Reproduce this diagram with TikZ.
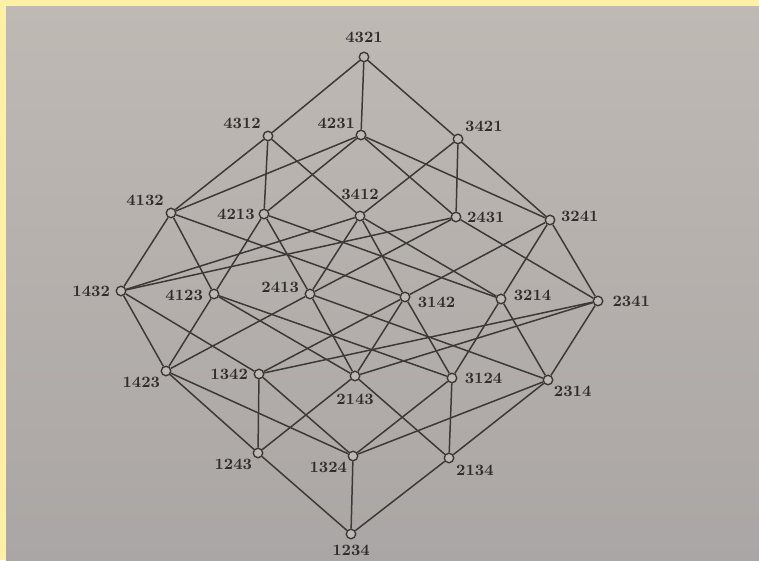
\documentclass[tikz,border=0pt]{standalone}
\usepackage{amsmath,amssymb}
\usepackage{tikz}

\definecolor{paper}{RGB}{190,185,179}
\definecolor{paperdark}{RGB}{170,166,165}
\definecolor{frame}{RGB}{255,240,166}
\definecolor{ink}{RGB}{60,57,55}

\tikzset{
  vtx/.style={circle,draw=ink,fill=paper,line width=0.8pt,inner sep=0pt,minimum size=0.19cm},
  lbl/.style={font=\fontsize{9}{10}\selectfont\bfseries,text=ink!80!black,inner sep=1pt},
  every label/.style={lbl},
  edge/.style={draw=ink,line width=0.85pt}
}

\begin{document}
\begin{tikzpicture}[x=0.02cm,y=-0.02cm]
	  \useasboundingbox (0,0) rectangle (759,560);
	  \fill[frame] (0,0) rectangle (759,560);
	  \shade[top color=paper,bottom color=paperdark] (6,7) rectangle (759,560);
	  % rank 6
	  \node[vtx,label={[label distance=4pt]above:4321}] (n4321) at (364,57) {};
	  % rank 5
	  \node[vtx,label={[label distance=1pt]above left:4312}] (n4312) at (268,136) {};
	  \node[vtx,label={[label distance=0pt]above left:4231}] (n4231) at (361,135) {};
	  \node[vtx,label={[label distance=1pt]above right:3421}] (n3421) at (458,139) {};
	  % rank 4
	  \node[vtx,label={[label distance=1pt]above left:4132}] (n4132) at (171,213) {};
	  \node[vtx,label={[label distance=1pt]left:4213}] (n4213) at (264,214) {};
	  \node[vtx,label={[label distance=5pt]above:3412}] (n3412) at (360,216) {};
	  \node[vtx,label={[label distance=2pt]right:2431}] (n2431) at (456,217) {};
	  \node[vtx,label={[label distance=2pt,yshift=2pt]right:3241}] (n3241) at (550,220) {};
	  % rank 3
	  \node[vtx,label={[label distance=2pt]left:1432}] (n1432) at (121,291) {};
	  \node[vtx,label={[label distance=2pt,yshift=-1pt]left:4123}] (n4123) at (214,294) {};
	  \node[vtx,label={[label distance=2pt,yshift=4pt]left:2413}] (n2413) at (310,294) {};
	  \node[vtx,label={[label distance=3pt,yshift=-3pt]right:3142}] (n3142) at (405,297) {};
	  \node[vtx,label={[label distance=3pt,yshift=2pt]right:3214}] (n3214) at (501,299) {};
	  \node[vtx,label={[label distance=4pt]right:2341}] (n2341) at (598,301) {};
	  % rank 2
	  \node[vtx,label={[label distance=0pt]below left:1423}] (n1423) at (166,371) {};
	  \node[vtx,label={[label distance=2pt]left:1342}] (n1342) at (259,374) {};
	  \node[vtx,label={[label distance=6pt]below:2143}] (n2143) at (355,376) {};
	  \node[vtx,label={[label distance=3pt]right:3124}] (n3124) at (452,378) {};
	  \node[vtx,label={[label distance=0pt]below right:2314}] (n2314) at (548,380) {};
	  % rank 1
	  \node[vtx,label={[label distance=0pt]below left:1243}] (n1243) at (258,453) {};
	  \node[vtx,label={[label distance=0pt]below left:1324}] (n1324) at (353,456) {};
	  \node[vtx,label={[label distance=1pt]below right:2134}] (n2134) at (449,458) {};
	  % rank 0
	  \node[vtx,label={[label distance=2pt]below:1234}] (n1234) at (351,534) {};
	  % covering relations
	  \foreach \a/\b in {1234/1243,1234/1324,1234/2134,
	      1243/2143,1243/1423,1243/1342,
	      1324/3124,1324/2314,1324/1423,1324/1342,
	      2134/3124,2134/2314,2134/2143,
	      2143/4123,2143/3142,2143/2413,2143/2341,
	      2314/3214,2314/2413,2314/2341,
	      3124/4123,3124/3214,3124/3142,
	      1342/3142,1342/2341,1342/1432,
	      1423/4123,1423/2413,1423/1432,
	      3214/4213,3214/3412,3214/3241,
	      3142/4132,3142/3412,3142/3241,
	      2413/4213,2413/3412,2413/2431,
	      2341/3241,2341/2431,
	      4123/4213,4123/4132,
	      1432/4132,1432/3412,1432/2431,
	      4213/4312,4213/4231,
	      4132/4312,4132/4231,
	      3412/4312,3412/3421,
	      3241/4231,3241/3421,
	      2431/4231,2431/3421,
	      4312/4321,4231/4321,3421/4321}
	    \draw[edge] (n\a) -- (n\b);
\end{tikzpicture}
\end{document}
